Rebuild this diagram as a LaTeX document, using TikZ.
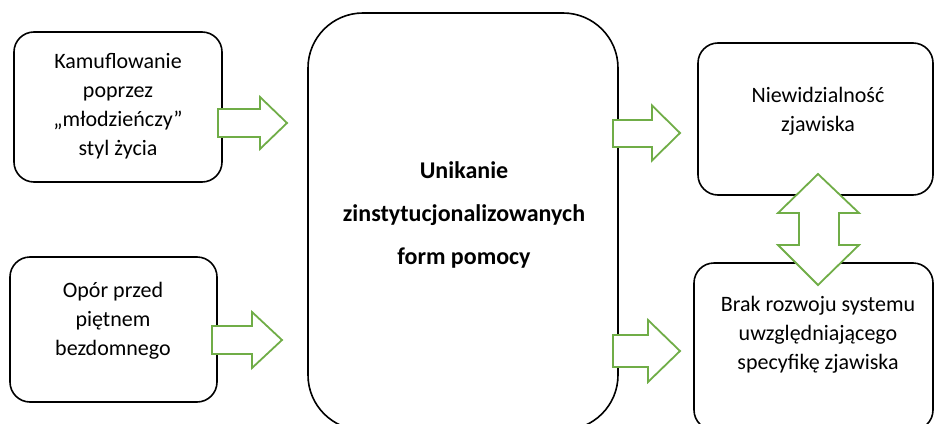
\documentclass[tikz,border=0pt]{standalone}
\usepackage{fontspec}
\setmainfont{Carlito}
\definecolor{arrowgreen}{HTML}{70AD47}
\begin{document}
\begin{tikzpicture}[x=1pt,y=-1pt,
  box/.style={draw=black, line width=1.6pt, rounded corners=20pt, rectangle, inner sep=0pt},
  bigbox/.style={box, rounded corners=55pt},
  barrow/.style={draw=arrowgreen, line width=1.8pt, fill=white, line join=miter},
  lbl/.style={align=center, font=\fontsize{22}{29}\selectfont, inner sep=0pt},
  blbl/.style={align=center, font=\fontsize{24}{43}\selectfont\bfseries, inner sep=0pt}]
\useasboundingbox (0,0) rectangle (934,423);
\clip (0,0) rectangle (934,423);
% boxes
\node[box, minimum width=208pt, minimum height=150pt] (kam) at (118,107) {};
\node[box, minimum width=207pt, minimum height=145pt] (opor) at (113.5,329.5) {};
\node[bigbox, minimum width=310pt, minimum height=417pt] (unik) at (463,221.5) {};
\node[box, minimum width=235pt, minimum height=152pt] (niew) at (815.5,119) {};
\node[box, minimum width=239pt, minimum height=167pt] (brak) at (813.5,346.5) {};
% texts
\node[lbl] (tkam) at (118,106) {Kamuflowanie\\poprzez\\„młodzieńczy”\\styl życia};
\node[lbl] (topor) at (113,321) {Opór przed\\piętnem\\bezdomnego};
\node[blbl] (tunik) at (464,215) {Unikanie\\zinstytucjonalizowanych\\form pomocy};
\node[lbl] (tniew) at (818,111) {Niewidzialność\\zjawiska};
\node[lbl] (tbrak) at (818,335) {Brak rozwoju systemu\\uwzględniającego\\specyfikę zjawiska};
% block arrows
\draw[barrow] (218,109) -- (260,109) -- (260,97) -- (287,123) -- (260,149) -- (260,137) -- (218,137) -- cycle;
\draw[barrow] (212,326) -- (252,326) -- (252,312) -- (282,340) -- (252,368) -- (252,354) -- (212,354) -- cycle;
\draw[barrow] (613,120) -- (652,120) -- (652,105.5) -- (680,133) -- (652,160.5) -- (652,147) -- (613,147) -- cycle;
\draw[barrow] (613,335) -- (648,335) -- (648,320) -- (680,351) -- (648,382) -- (648,367) -- (613,367) -- cycle;
\draw[barrow] (818,174) -- (859,213) -- (839,213) -- (839,245) -- (859,245) -- (818,285) -- (778,245) -- (799,245) -- (799,213) -- (778,213) -- cycle;
\end{tikzpicture}
\end{document}
